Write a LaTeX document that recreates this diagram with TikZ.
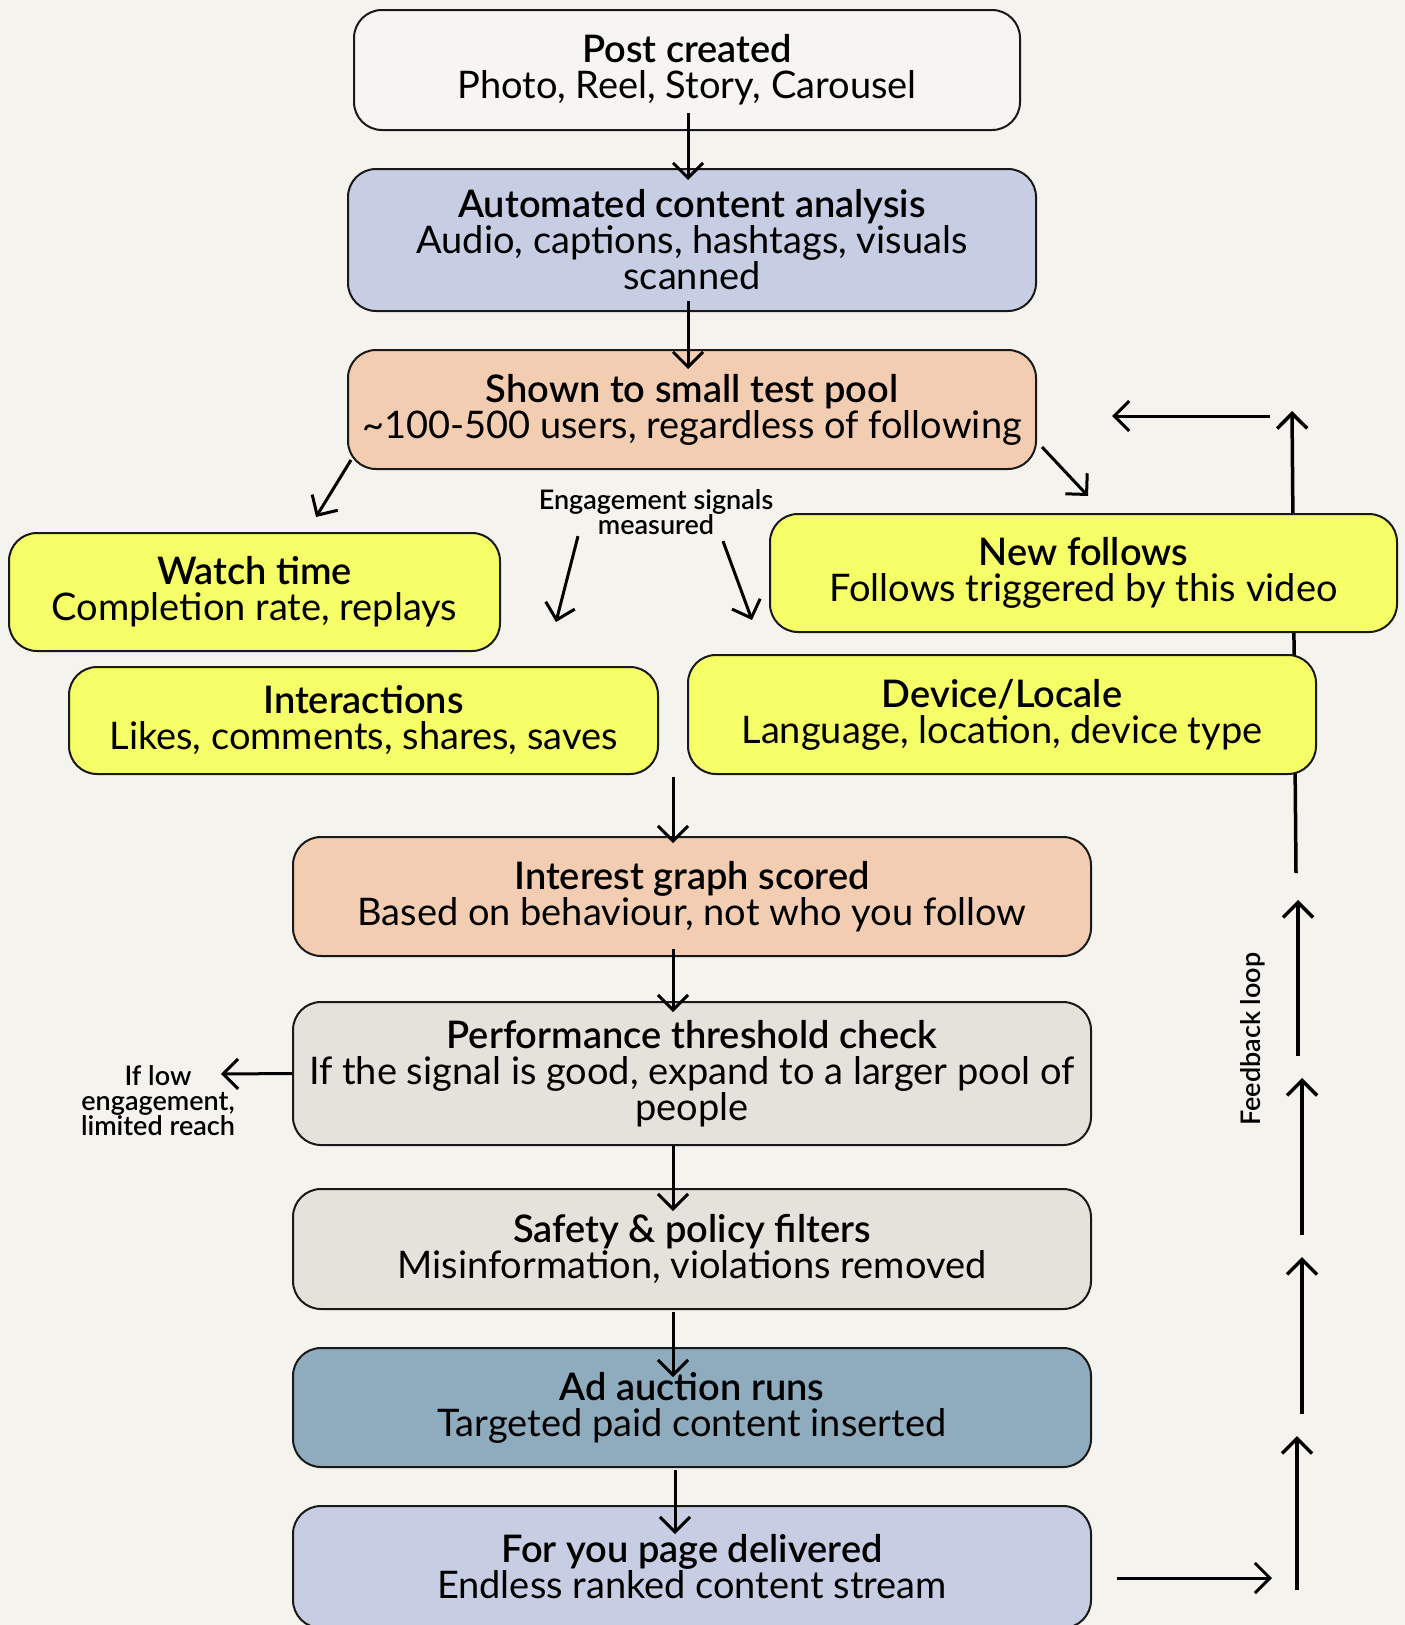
\documentclass[tikz,border=0pt]{standalone}
\usepackage{fontspec}
\setmainfont{Lato}[BoldFont={Lato Semibold}]
\usetikzlibrary{calc,arrows.meta}

\definecolor{paper}{HTML}{F5F3EE}
\definecolor{plainbox}{HTML}{F7F5F1}
\definecolor{lavender}{HTML}{C7CDE3}
\definecolor{peach}{HTML}{F3CDB2}
\definecolor{signal}{HTML}{F5FE66}
\definecolor{stone}{HTML}{E5E1DB}
\definecolor{steel}{HTML}{8FABBE}

\begin{document}
\begin{tikzpicture}[
		x={(1pt,0pt)},
		y={(0pt,-1pt)},
		box/.style={draw=black!90, line width=2pt, rounded corners=28pt, align=center, inner sep=0pt, font=\fontsize{38}{36}\selectfont},
		arr/.style={line width=3pt, -{Straight Barb[length=15pt,width=30pt]}},
		note/.style={align=center, font=\bfseries\fontsize{27}{25}\selectfont}
	]

		% page
		\useasboundingbox (0,0) rectangle (1405,1625);
		\fill[paper] (0,0) rectangle (1405,1625);

		% feedback loop, top part runs behind the boxes
		\coordinate (fb1) at (1297,1590);
		\coordinate (fb2) at (1297,1436);
		\coordinate (fb3) at (1302,1414);
		\coordinate (fb4) at (1302,1257);
		\coordinate (fb5) at (1302,1235);
		\coordinate (fb6) at (1302,1078);
		\coordinate (fb7) at (1298,1056);
		\coordinate (fb8) at (1298,900);
		\coordinate (fb9) at (1296,873);
		\coordinate (fb10) at (1292,411);
		\draw[arr, line width=3.5pt] (fb9) -- (fb10);

		% main column
		\node[box, fill=plainbox, minimum width=666, minimum height=120] (post) at (687,70) {\textbf{Post created}\\Photo, Reel, Story, Carousel};
		\node[box, fill=lavender, minimum width=688, minimum height=142] (analysis) at (692,240) {\textbf{Automated content analysis}\\Audio, captions, hashtags, visuals\\scanned};
		\node[box, fill=peach, minimum width=688, minimum height=119] (testpool) at (692,409.5) {\textbf{Shown to small test pool}\\\textasciitilde100-500 users, regardless of following};

		% signals
		\node[box, fill=signal, minimum width=491, minimum height=118] (watch) at (254.5,592) {\textbf{Watch time}\\Completion rate, replays};
		\node[box, fill=signal, minimum width=589, minimum height=107] (interact) at (363.5,720.5) {\textbf{Interactions}\\Likes, comments, shares, saves};
		\node[box, fill=signal, minimum width=627, minimum height=118] (follows) at (1083.5,573) {\textbf{New follows}\\Follows triggered by this video};
		\node[box, fill=signal, minimum width=628, minimum height=119] (device) at (1002,714.5) {\textbf{Device/Locale}\\Language, location, device type};
		\node[note] (engage) at (656,512) {Engagement signals\\measured};

		% scoring and delivery
		\node[box, fill=peach, minimum width=798, minimum height=119] (interest) at (692,896.5) {\textbf{Interest graph scored}\\Based on behaviour, not who you follow};
		\node[box, fill=stone, minimum width=798, minimum height=143] (threshold) at (692,1073.5) {\textbf{Performance threshold check}\\If the signal is good, expand to a larger pool of\\people};
		\node[box, fill=stone, minimum width=798, minimum height=120] (safety) at (692,1249) {\textbf{Safety \& policy filters}\\Misinformation, violations removed};
		\node[box, fill=steel, minimum width=798, minimum height=119] (auction) at (692,1407.5) {\textbf{Ad auction runs}\\Targeted paid content inserted};
		\node[box, fill=lavender, minimum width=798, minimum height=122] (foryou) at (692,1567) {\textbf{For you page delivered}\\Endless ranked content stream};
		\node[note] (lowreach) at (158,1101) {If low\\engagement,\\limited reach};
		\node[note, rotate=90] (fbtext) at (1253,1039) {Feedback loop};

		% free ends
		\coordinate (sigL) at (556,622);
		\coordinate (sigR) at (752,620);
		\coordinate (sigin) at (673,777);
		\coordinate (lowtip) at (221,1074);
		\coordinate (loopout) at (1272,1578);
		\coordinate (backR) at (1270,416);
		\coordinate (backL) at (1112,416);

		% arrows down the column
		\draw[arr] ($(post.south)+(1,-18)$) -- ($(analysis.north)+(-4,12)$);
		\draw[arr] ($(analysis.south)+(-4,-11)$) -- ($(testpool.north)+(-4,20)$);
		\draw[arr] ($(testpool.south west)+(4,-10)$) -- ($(watch.north)+(61.5,-15)$);
		\draw[arr] ($(testpool.south east)+(5,-23)$) -- ($(follows.north)+(4.5,-17)$);
		\draw[arr] ($(engage.south)+(-78,-2)$) -- (sigL);
		\draw[arr] ($(engage.south)+(67,3)$) -- (sigR);
		\draw[arr] (sigin) -- ($(interest.north)+(-19,7)$);
		\draw[arr] ($(interest.south)+(-19,-8)$) -- ($(threshold.north)+(-19,11)$);
		\draw[arr] (threshold.west) -- (lowtip);
		\draw[arr] ($(threshold.south)+(-19,0)$) -- ($(safety.north)+(-19,23)$);
		\draw[arr] ($(safety.south)+(-19,2)$) -- ($(auction.north)+(-19,30)$);
		\draw[arr] ($(auction.south)+(-17,2)$) -- ($(foryou.north)+(-17,29)$);

		% feedback loop
		\draw[arr] ($(foryou.east)+(25,11)$) -- (loopout);
		\draw[arr, line width=3.5pt] (fb1) -- (fb2);
		\draw[arr, line width=3.5pt] (fb3) -- (fb4);
		\draw[arr, line width=3.5pt] (fb5) -- (fb6);
		\draw[arr, line width=3.5pt] (fb7) -- (fb8);
		\draw[arr] (backR) -- (backL);

	\end{tikzpicture}
\end{document}
